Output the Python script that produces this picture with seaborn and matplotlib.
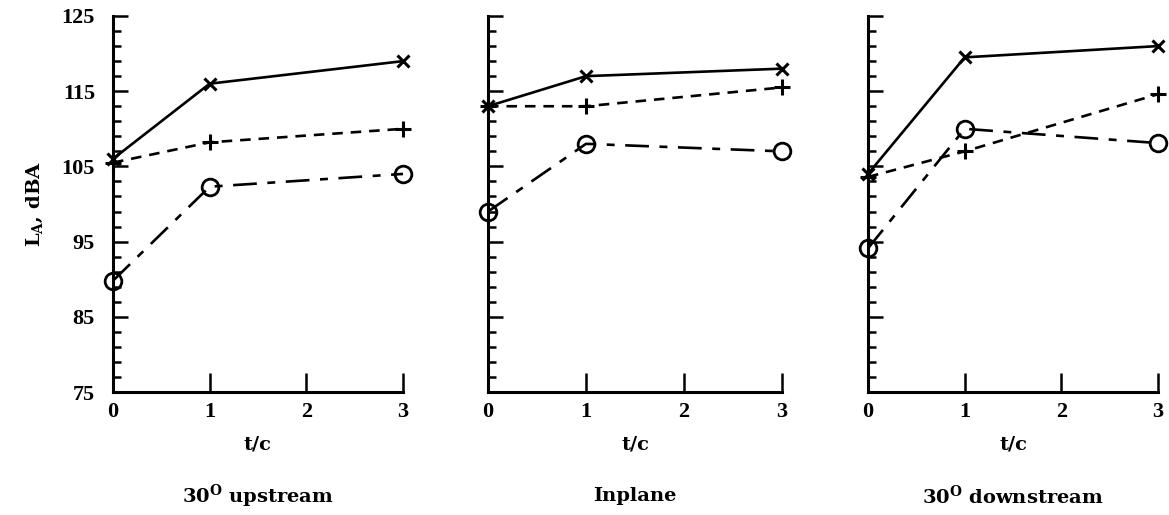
import numpy as np
import pandas as pd
import matplotlib
matplotlib.use("Agg")
import matplotlib.pyplot as plt
import seaborn as sns
from matplotlib.ticker import FixedLocator

# data
t_c = [0, 1, 3]
panels = ["30$^{\\mathrm{O}}$ upstream", "Inplane", "30$^{\\mathrm{O}}$ downstream"]
cross_vals = [[106, 116, 119], [113, 117, 118], [104, 119.5, 121]]
plus_vals = [[105.5, 108.2, 110], [113, 113, 115.5], [103.6, 107, 114.6]]
circle_vals = [[89.8, 102.3, 104], [99, 108, 107], [94.1, 110, 108.1]]

rows = []
for p, name in enumerate(panels):
    for series, vals in [("x", cross_vals), ("+", plus_vals), ("o", circle_vals)]:
        for t, v in zip(t_c, vals[p]):
            rows.append({"panel": p, "series": series, "t": t, "LA": v})
df = pd.DataFrame(rows)

sns.set_style("ticks")
plt.rcParams["font.family"] = ["Liberation Serif", "DejaVu Serif"]
plt.rcParams["font.weight"] = "bold"
plt.rcParams["mathtext.fontset"] = "custom"
plt.rcParams["mathtext.rm"] = "DejaVu Serif:bold"
plt.rcParams["mathtext.it"] = "DejaVu Serif:bold"
for key in ["text.color", "axes.labelcolor", "xtick.color", "ytick.color", "axes.edgecolor"]:
    plt.rcParams[key] = "black"
label_font = dict(family="DejaVu Serif", fontweight="bold", fontsize=14)

styles = {
    "x": dict(marker="x", ls="-", ms=8, mew=2.2),
    "+": dict(marker="+", ls=(0, (4, 3)), ms=12, mew=2.2),
    "o": dict(marker="o", ls=(0, (9, 4, 3, 4)), ms=12, mew=2, mfc="none"),
}

fig = plt.figure(figsize=(11.69, 5.15), dpi=100)
lefts = [113, 488, 868]
widths = [290, 294, 290]
for p in range(3):
    ax = fig.add_axes([lefts[p] / 1169, 1 - 392 / 515, widths[p] / 1169, 376 / 515])
    sub = df[df["panel"] == p]
    for series, st in styles.items():
        d = sub[sub["series"] == series]
        sns.lineplot(data=d, x="t", y="LA", ax=ax, color="k", lw=1.9, mec="k", **st)
    ax.set_xlim(0, 3)
    ax.set_ylim(75, 125)
    ax.set_xticks([0, 1, 2, 3])
    ax.yaxis.set_major_locator(FixedLocator(np.arange(75, 126, 10)))
    ax.yaxis.set_minor_locator(FixedLocator(np.arange(75, 126, 2)))
    ax.tick_params(axis="both", which="both", direction="in", width=1.8)
    ax.tick_params(axis="y", which="major", length=11)
    ax.tick_params(axis="y", which="minor", length=6)
    ax.tick_params(axis="x", length=14, pad=7, labelsize=16)
    ax.tick_params(axis="y", labelsize=16, pad=13)
    for s in ["top", "right"]:
        ax.spines[s].set_visible(False)
    for s in ["left", "bottom"]:
        ax.spines[s].set_linewidth(2.2)
    ax.set_xlabel("t/c", labelpad=10, **label_font)
    if p == 0:
        ax.set_ylabel("L$_A$, dBA", labelpad=12, **label_font)
    else:
        ax.set_ylabel("")
        ax.set_yticklabels([])
    ax.text(0.5, -0.277, panels[p], transform=ax.transAxes, ha="center", va="center", **label_font)
    for line in ax.lines:
        line.set_clip_on(False)

fig.savefig("out.png", dpi=100)
